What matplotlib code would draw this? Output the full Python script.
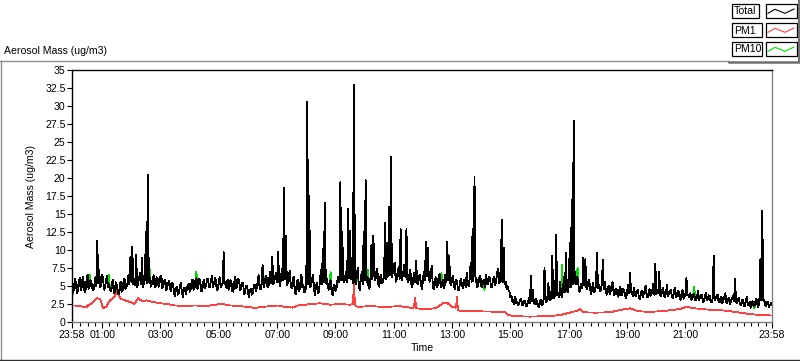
import matplotlib
matplotlib.use('Agg')
import matplotlib.pyplot as plt
from matplotlib.lines import Line2D
from matplotlib.patches import Rectangle
from matplotlib.ticker import FuncFormatter
import numpy as np

plt.rcParams['font.family'] = ['Liberation Sans', 'DejaVu Sans']
plt.rcParams['font.size'] = 7.6

# ---------------- data ----------------
STEP_MIN = 2  # minutes between Total / PM10 samples, starting 23:58

total = [
    5.9, 4.2, 4.6, 6.0, 5.4, 4.0, 4.3, 5.7, 6.1, 4.4, 4.8, 6.3, 5.6, 4.1, 4.5, 5.9, 6.6, 4.6, 4.9, 5.8,
    5.5, 4.7, 4.4, 5.2, 6.2, 5.0, 11.3, 5.4, 7.2, 4.9, 5.0, 6.5, 6.0, 4.5, 4.8, 5.9, 6.4, 4.8, 5.3, 4.6,
    4.3, 5.3, 5.8, 4.0, 4.1, 5.5, 5.2, 4.2, 3.9, 4.8, 5.6, 4.2, 4.4, 5.7, 6.0, 4.6, 4.8, 5.4, 6.5, 5.2,
    9.0, 5.6, 10.4, 5.3, 6.0, 5.1, 9.3, 4.9, 5.4, 6.1, 6.8, 5.2, 8.9, 4.8, 5.5, 6.0, 12.5, 5.4, 20.5, 5.6,
    6.2, 4.9, 5.3, 6.0, 6.5, 4.8, 5.0, 6.2, 6.1, 4.9, 5.4, 6.4, 6.3, 4.7, 5.1, 5.8, 5.9, 4.4, 4.8, 5.5,
    5.7, 4.6, 4.3, 5.4, 5.2, 4.0, 3.6, 4.7, 4.9, 3.8, 4.1, 5.0, 5.4, 4.2, 3.5, 4.6, 4.8, 3.9, 4.4, 5.1,
    5.3, 4.2, 4.6, 5.5, 5.9, 4.5, 4.7, 5.8, 6.1, 4.6, 5.0, 6.0, 5.6, 4.3, 4.4, 5.6, 5.8, 4.7, 5.2, 6.0,
    6.0, 4.8, 4.9, 5.9, 6.4, 4.9, 5.3, 6.1, 5.7, 4.4, 4.5, 5.7, 6.2, 4.8, 5.1, 5.4, 9.7, 5.2, 5.6, 4.7,
    5.9, 4.5, 4.8, 5.8, 5.5, 4.3, 4.2, 5.6, 6.3, 4.7, 5.0, 6.0, 5.8, 4.4, 4.6, 5.5, 5.4, 3.9, 4.1, 5.0,
    5.0, 4.2, 3.4, 4.5, 4.6, 3.8, 4.0, 5.0, 5.2, 4.3, 4.7, 5.6, 6.5, 4.6, 4.5, 5.3, 7.9, 4.8, 5.2, 6.1,
    6.4, 5.0, 4.8, 6.2, 7.0, 5.4, 9.0, 5.3, 5.6, 6.4, 6.8, 5.5, 9.8, 5.7, 5.0, 6.2, 7.4, 5.8, 18.6, 6.0,
    12.0, 5.1, 5.5, 6.6, 7.1, 4.9, 4.7, 5.8, 6.3, 4.5, 3.9, 5.2, 5.9, 4.3, 4.4, 5.6, 6.6, 4.8, 5.2, 4.1,
    4.3, 5.0, 30.6, 5.2, 17.5, 4.8, 5.1, 6.0, 6.5, 4.5, 3.8, 5.1, 5.4, 4.0, 4.2, 5.8, 7.2, 5.3, 10.2, 5.6,
    16.6, 5.4, 6.0, 4.9, 4.5, 5.6, 5.8, 4.2, 3.7, 4.9, 5.2, 4.3, 4.6, 5.7, 6.3, 5.5, 19.4, 5.8, 12.5, 5.9,
    5.5, 6.3, 7.0, 5.6, 15.7, 6.1, 12.6, 5.9, 6.8, 5.4, 33.0, 5.7, 5.2, 6.6, 7.5, 5.0, 4.4, 5.8, 6.9, 5.3,
    12.5, 5.8, 19.7, 5.5, 6.2, 5.0, 4.6, 6.1, 10.7, 5.9, 12.0, 6.3, 5.8, 6.9, 7.4, 5.3, 4.9, 6.2, 6.6, 5.4,
    5.6, 6.4, 13.7, 6.0, 11.0, 6.3, 16.0, 6.5, 23.0, 6.2, 6.9, 7.8, 8.2, 5.6, 5.9, 7.0, 7.6, 6.0, 12.9, 5.8,
    6.3, 7.1, 8.0, 6.2, 12.9, 5.9, 5.5, 6.6, 7.3, 5.2, 4.8, 6.0, 6.8, 5.6, 8.5, 5.4, 5.2, 6.4, 6.5, 5.1,
    4.6, 5.9, 7.0, 5.8, 11.1, 6.4, 10.3, 6.0, 5.6, 6.8, 7.8, 5.3, 4.5, 5.7, 6.2, 4.8, 5.0, 6.1, 6.7, 5.2,
    4.8, 5.6, 5.9, 4.7, 6.6, 5.5, 11.1, 5.8, 9.2, 5.4, 5.1, 6.0, 6.4, 4.9, 4.6, 5.8, 5.7, 4.5, 4.4, 5.5,
    6.0, 5.1, 4.7, 5.9, 5.5, 4.9, 6.8, 5.4, 5.0, 6.0, 8.2, 5.6, 12.9, 5.7, 20.1, 5.5, 6.1, 4.8, 5.3, 6.2,
    6.4, 5.0, 4.9, 5.7, 5.8, 4.8, 6.6, 5.3, 5.2, 6.2, 6.0, 4.9, 4.8, 5.9, 6.3, 5.1, 5.5, 6.5, 7.4, 5.4,
    6.8, 5.6, 14.2, 5.5, 10.3, 5.2, 5.6, 4.6, 5.0, 4.4, 4.2, 3.4, 3.6, 2.8, 3.1, 2.5, 3.5, 2.6, 2.8, 2.3,
    2.6, 3.1, 3.2, 2.4, 2.3, 2.9, 3.0, 2.2, 2.2, 2.8, 3.3, 2.6, 6.4, 2.9, 4.4, 2.7, 2.5, 3.2, 2.9, 2.3,
    2.1, 2.7, 3.1, 2.3, 2.4, 3.0, 7.5, 2.9, 2.8, 3.5, 5.4, 3.1, 3.0, 3.6, 9.2, 3.3, 3.4, 3.9, 12.1, 3.7,
    4.0, 3.4, 5.6, 3.9, 3.5, 4.5, 6.2, 4.1, 9.6, 4.4, 4.2, 5.0, 11.0, 4.9, 16.9, 5.3, 27.9, 5.8, 5.2, 6.3,
    6.0, 5.0, 4.1, 4.9, 5.3, 4.7, 8.9, 5.1, 8.7, 4.8, 4.6, 5.5, 5.8, 4.5, 3.9, 4.8, 5.4, 4.2, 4.3, 5.2,
    9.6, 4.7, 5.1, 4.3, 4.4, 5.3, 8.6, 4.6, 5.6, 4.4, 3.8, 4.7, 5.0, 3.9, 4.2, 5.1, 5.5, 4.3, 3.7, 4.6,
    4.6, 3.8, 3.5, 4.5, 4.9, 3.7, 3.9, 4.6, 4.4, 3.6, 3.3, 4.3, 5.2, 4.0, 6.8, 4.2, 4.1, 3.6, 4.8, 3.9,
    3.6, 4.2, 4.5, 3.5, 3.2, 4.0, 4.3, 3.4, 3.8, 4.4, 5.0, 3.7, 3.4, 4.1, 4.6, 3.6, 3.9, 4.5, 5.3, 3.8,
    8.1, 3.9, 4.2, 4.0, 7.0, 3.8, 3.6, 4.4, 4.8, 3.7, 3.4, 4.2, 5.1, 3.6, 3.9, 4.3, 4.5, 3.5, 3.3, 4.1,
    4.7, 3.4, 3.6, 4.3, 4.2, 3.3, 3.1, 3.9, 4.4, 3.2, 3.5, 4.0, 6.1, 3.7, 3.8, 3.4, 4.0, 3.1, 3.2, 3.8,
    3.9, 3.1, 3.0, 3.7, 4.3, 3.0, 3.4, 3.8, 3.7, 2.8, 2.9, 3.5, 4.1, 3.0, 3.2, 3.7, 3.6, 2.7, 2.8, 3.3,
    9.2, 3.0, 3.3, 3.6, 3.8, 2.9, 2.7, 3.3, 3.5, 2.6, 3.0, 3.5, 4.0, 2.8, 2.6, 3.2, 3.4, 2.5, 2.9, 3.3,
    3.7, 2.9, 6.0, 2.8, 2.6, 3.2, 3.3, 2.5, 2.4, 3.0, 3.1, 2.3, 2.2, 2.9, 3.5, 2.4, 2.5, 2.8, 2.0, 2.6,
    2.9, 2.2, 2.3, 2.8, 3.2, 2.4, 2.1, 2.9, 8.7, 3.0, 15.4, 3.1, 3.0, 2.4, 2.2, 2.8, 2.7, 2.1, 2.4, 2.6, 2.3,
]

# PM10 follows Total except at these samples (index: value)
pm10_differences = {
    0: 3.2, 18: 6.6, 38: 6.5, 80: 7.2, 128: 7.0, 198: 6.3, 210: 6.0,
    266: 6.9, 290: 20.8, 294: 6.5, 304: 7.3, 342: 7.5, 380: 6.8,
    424: 4.5, 504: 7.9, 518: 7.0, 520: 7.5, 528: 5.0, 600: 4.5,
    640: 4.9, 702: 1.9,
}

# PM1 (minutes after 23:58, value)
pm1_time = [
    0, 16, 29, 33, 43, 51, 58, 64, 70, 78, 86, 93, 99, 109, 119, 128,
    136, 144, 154, 165, 181, 197, 212, 232, 253, 274, 294, 309, 325,
    346, 362, 376, 391, 407, 424, 438, 453, 465, 479, 494, 510, 531,
    551, 572, 578, 580, 582, 588, 613, 644, 675, 695, 703, 706, 708,
    726, 747, 757, 765, 773, 782, 790, 792, 794, 819, 860, 891, 897,
    911, 942, 973, 1004, 1024, 1041, 1045, 1051, 1076, 1107, 1127,
    1148, 1164, 1189, 1220, 1251, 1263, 1281, 1302, 1333, 1354, 1374,
    1395, 1419, 1440,
]
pm1 = [
    2.3, 2.25, 2.0, 2.3, 2.7, 3.3, 3.2, 1.9, 2.1, 3.0, 3.4, 4.3, 3.3,
    3.0, 2.8, 2.5, 3.3, 2.9, 3.0, 2.8, 2.6, 2.5, 2.3, 2.2, 2.3, 2.2,
    2.4, 2.5, 2.3, 2.2, 2.1, 1.95, 2.1, 2.2, 2.3, 2.1, 2.0, 2.3, 2.4,
    2.5, 2.6, 2.4, 2.5, 2.4, 2.5, 5.5, 2.3, 2.1, 2.2, 2.1, 2.2, 2.0,
    2.0, 3.3, 1.9, 1.8, 1.9, 2.3, 2.7, 2.6, 2.1, 2.0, 3.5, 1.6, 1.5,
    1.45, 1.4, 1.0, 0.8, 0.75, 0.8, 0.95, 1.3, 1.6, 1.8, 1.35, 1.3,
    1.35, 1.65, 1.9, 1.5, 1.4, 1.55, 1.8, 2.1, 1.9, 1.75, 1.65, 1.5,
    1.3, 1.1, 0.95, 0.9,
]

major_ticks = [0, 62, 182, 302, 422, 542, 662, 782, 902, 1022, 1142, 1262, 1440]
major_labels = ['23:58', '01:00', '03:00', '05:00', '07:00', '09:00', '11:00',
                '13:00', '15:00', '17:00', '19:00', '21:00', '23:58']
y_ticks = [0, 2.5, 5, 7.5, 10, 12.5, 15, 17.5, 20, 22.5, 25, 27.5, 30, 32.5, 35]

series_names = ['Total', 'PM1', 'PM10']
series_colors = ['#000000', '#FF4040', '#00E000']

# ---------------- figure ----------------
W, H = 800, 361
fig = plt.figure(figsize=(W / 100, H / 100), dpi=100)


def fx(x):
    return x / W


def fy(y):
    return 1 - y / H


time_total = np.arange(len(total)) * STEP_MIN
pm10 = list(total)
for k, v in pm10_differences.items():
    pm10[k] = v

ax = fig.add_axes([fx(72), fy(322), 700 / W, 252 / H])
ax.plot(time_total, pm10, color=series_colors[2], lw=0.6, antialiased=False)
ax.plot(pm1_time, pm1, color=series_colors[1], lw=0.6, antialiased=False)
ax.plot(time_total, total, color=series_colors[0], lw=0.6, antialiased=False)

ax.set_xlim(0, 1440)
ax.set_ylim(0, 35)
ax.set_yticks(y_ticks)
ax.yaxis.set_major_formatter(FuncFormatter(lambda v, p: '%g' % v))
ax.set_xticks(major_ticks)
ax.set_xticklabels(major_labels)
minor = [m for m in range(17, 1440, 15) if m not in major_ticks]
ax.set_xticks(minor, minor=True)

ax.tick_params(axis='x', which='major', length=4.5, width=0.8, pad=1.5,
               direction='out', colors='black', labelsize=7.6)
ax.tick_params(axis='x', which='minor', length=3, width=0.8, direction='out')
ax.tick_params(axis='y', which='major', length=3.6, width=0.8, pad=1.0,
               direction='out', labelsize=7.6)

for side in ['top', 'left']:
    ax.spines[side].set_color('black')
    ax.spines[side].set_linewidth(1.0)
for side in ['bottom', 'right']:
    ax.spines[side].set_color('#808080')
    ax.spines[side].set_linewidth(1.0)

ax.set_xlabel('Time', fontsize=7.6, labelpad=2)
fig.text(fx(31), fy(196), 'Aerosol Mass (ug/m3)', rotation=90,
         ha='center', va='center', fontsize=7.6)
fig.text(fx(4), fy(51), 'Aerosol Mass (ug/m3)', ha='left', va='center',
         fontsize=7.6)

# outer frame
fig.add_artist(Line2D([fx(0), fx(729)], [fy(61), fy(61)], color='#909090', lw=1.0))
fig.add_artist(Line2D([fx(729), fx(800)], [fy(61.5), fy(61.5)], color='#707070', lw=1.8))
fig.add_artist(Line2D([fx(799), fx(799)], [fy(0), fy(62)], color='#707070', lw=1.5))
fig.add_artist(Line2D([fx(1), fx(1)], [fy(61), fy(361)], color='#909090', lw=1.0))
fig.add_artist(Line2D([fx(0), fx(800)], [fy(359.5), fy(359.5)], color='#303030', lw=1.0))

# legend
rows = [(4, 18), (23, 37), (42, 56)]
label_right = [759, 762, 762]
for (top, bot), name, col, rgt in zip(rows, series_names, series_colors, label_right):
    fig.add_artist(Rectangle((fx(732), fy(bot)), (rgt - 732) / W, (bot - top) / H,
                             facecolor='white', edgecolor='black', lw=0.9))
    fig.text(fx(734), fy((top + bot) / 2 + 0.5), name, ha='left', va='center',
             fontsize=7.6)
    fig.add_artist(Rectangle((fx(766), fy(bot)), 31 / W, (bot - top) / H,
                             facecolor='white', edgecolor='black', lw=0.9))
    zx = [768, 775, 785, 794]
    zy = [top + 9.3, top + 5.3, top + 9.3, top + 5.0]
    fig.add_artist(Line2D([fx(v) for v in zx], [fy(v) for v in zy], color=col, lw=0.8))

fig.savefig('out.png', dpi=100)
